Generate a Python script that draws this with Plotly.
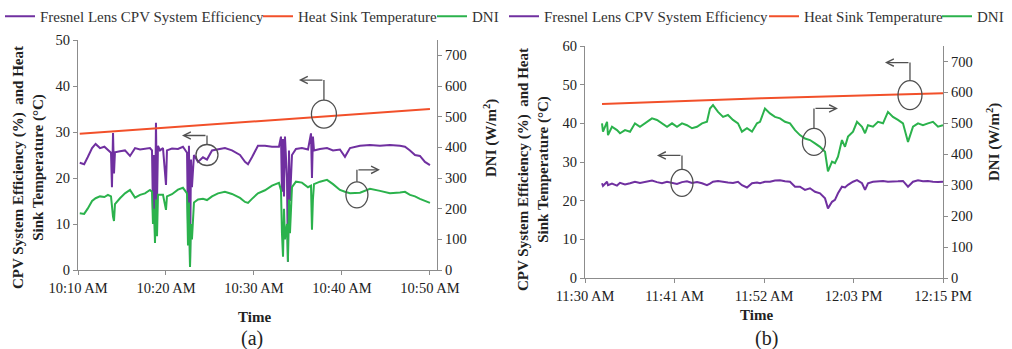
import plotly.graph_objects as go

W, H = 1012, 349
SERIF = "Liberation Serif"
PURPLE = "#7030A0"
RED = "#F2502A"
GREEN = "#2BB24C"
AX = "#8c8c8c"
TXT = "#222222"

# ---------------- Panel (a): minutes after 10:10 AM ----------------
time_a = [0.2, 0.7, 1.1, 1.6, 2.0, 2.5, 3.0, 3.4, 3.75, 3.86, 3.98, 4.09, 4.2, 4.77, 5.34,
          5.91, 6.48, 7.05, 7.61, 8.18, 8.41, 8.52, 8.64, 8.75, 8.86, 8.98, 9.09, 9.32, 9.66,
          10.0, 10.11, 10.68, 11.36, 11.93, 12.39, 12.5, 12.61, 12.73, 12.84, 12.95, 13.18,
          13.64, 14.2, 14.66, 15.23, 15.91, 16.7, 17.5, 18.41, 18.98, 19.32, 19.77, 20.45,
          21.25, 22.05, 22.84, 23.07, 23.18, 23.3, 23.41, 23.52, 23.75, 23.86, 23.98, 24.09,
          24.32, 24.77, 25.45, 26.14, 26.48, 26.59, 26.7, 26.82, 27.5, 28.3, 28.98, 29.77,
          30.34, 30.91, 32.05, 33.18, 34.32, 35.45, 36.59, 37.16, 37.73, 38.3, 38.86, 39.43, 40.0]
eff_a = [23.3, 23.0, 24.5, 26.5, 27.4, 26.5, 26.8, 26.0, 25.5, 18.0, 29.8, 21.0, 25.6, 25.8, 26.0,
         24.8, 26.5, 26.2, 26.3, 26.5, 26.0, 13.0, 25.0, 8.0, 32.0, 15.0, 27.0, 26.0, 26.5,
         18.5, 26.0, 26.4, 26.3, 26.8, 25.5, 10.0, 27.0, 0.8, 24.0, 18.0, 25.0,
         23.5, 24.5, 24.0, 26.0, 26.3, 26.5, 26.0, 25.0, 23.5, 23.0, 24.5, 27.0,
         27.0, 26.8, 26.8, 29.0, 17.0, 28.5, 16.0, 29.0, 20.0, 1.8, 26.0, 15.0,
         25.0, 26.3, 26.5, 26.2, 29.7, 20.0, 29.0, 26.0, 26.3, 26.5, 26.0, 26.2,
         24.6, 26.5, 27.0, 27.2, 27.0, 27.2, 27.0, 26.8, 26.0, 25.0, 24.8, 23.5, 22.8]
dni_a = [185, 183, 200, 225, 234, 240, 238, 245, 240, 200, 174, 160, 215, 234, 250,
         261, 236, 245, 250, 261, 255, 150, 200, 88, 230, 110, 245, 245, 245,
         196, 240, 247, 262, 268, 250, 80, 220, 10, 150, 100, 220,
         230, 232, 228, 240, 250, 255, 248, 235, 222, 219, 232, 250,
         260, 275, 284, 260, 120, 43, 200, 100, 150, 27, 230, 120,
         270, 288, 285, 270, 275, 131, 230, 280, 288, 294, 280, 261,
         255, 250, 252, 265, 258, 250, 253, 255, 245, 240, 232, 225, 219]
temp_time_a = [0.2, 19.5, 40.0]
temp_a = [29.6, 32.2, 35.0]
xtick_a_vals = [0, 10, 20, 30, 40]
xtick_a_text = ["10:10 AM", "10:20 AM", "10:30 AM", "10:40 AM", "10:50 AM"]

# ---------------- Panel (b): minutes after 11:30 AM ----------------
time_b = [2.14, 2.26, 2.77, 2.89, 3.39, 4.02, 4.4, 5.03, 5.66, 6.28, 6.91, 7.79, 8.42, 9.05,
          9.68, 10.31, 10.94, 11.56, 12.19, 12.82, 13.45, 14.08, 14.71, 15.33, 15.71, 16.09,
          16.72, 17.35, 17.97, 18.6, 19.23, 19.73, 20.36, 20.99, 21.62, 22.0, 22.62, 23.25,
          23.88, 24.51, 25.14, 25.77, 26.4, 27.02, 27.65, 28.28, 28.91, 29.54, 30.17, 30.54,
          31.05, 31.42, 31.8, 32.3, 32.68, 33.06, 33.69, 34.19, 34.82, 35.2, 35.57, 36.2,
          36.83, 37.46, 38.08, 38.71, 39.34, 39.97, 40.6, 41.23, 41.86, 42.48, 43.11, 43.74,
          44.37, 45.0]
eff_b = [24.5, 23.8, 24.9, 24.0, 24.4, 23.9, 24.6, 24.2, 24.5, 24.9, 24.6, 25.0, 25.2, 24.8,
         24.5, 24.9, 24.6, 24.3, 24.8, 25.0, 24.6, 24.8, 24.5, 24.0, 24.4, 24.9,
         25.1, 24.8, 24.7, 24.6, 24.9, 24.0, 23.4, 24.5, 24.7, 24.5, 24.9, 24.9,
         25.2, 25.3, 25.0, 24.9, 23.6, 23.6, 22.8, 23.2, 22.3, 21.9, 20.6, 18.0,
         19.7, 20.2, 21.9, 23.6, 23.4, 24.1, 24.9, 25.3, 24.5, 22.8, 24.5, 24.9,
         25.0, 25.1, 24.9, 24.9, 25.0, 25.1, 23.6, 24.9, 25.3, 25.0, 25.1, 24.9,
         24.8, 24.9]
dni_b = [500, 473, 505, 462, 489, 478, 468, 478, 473, 500, 489, 505, 516, 511,
         500, 489, 500, 489, 500, 494, 484, 489, 500, 505, 548, 559,
         537, 521, 527, 511, 500, 473, 484, 473, 500, 505, 548, 532,
         521, 516, 505, 500, 478, 462, 451, 446, 435, 424, 408, 345,
         376, 371, 392, 446, 424, 457, 473, 505, 489, 468, 494, 489,
         505, 500, 537, 521, 511, 500, 440, 489, 500, 494, 500, 505,
         489, 494]
temp_time_b = [2.14, 22.2, 45.0]
temp_b = [45.0, 46.5, 47.8]
xtick_b_vals = [0, 11.25, 22.5, 33.75, 45]
xtick_b_text = ["11:30 AM", "11:41 AM", "11:52 AM", "12:03 PM", "12:15 PM"]

series_names = ["Fresnel Lens CPV System Efficiency", "Heat Sink Temperature", "DNI"]

fig = go.Figure()


def add_panel(xa, ya, ya2, legs, t, eff, dni, tt, temp):
    fig.add_trace(go.Scatter(x=t, y=eff, mode="lines", name=series_names[0], legend=legs[0],
                             showlegend=True,
                             line=dict(color=PURPLE, width=2), xaxis=xa, yaxis=ya))
    fig.add_trace(go.Scatter(x=tt, y=temp, mode="lines", name=series_names[1], legend=legs[1],
                             showlegend=True,
                             line=dict(color=RED, width=2), xaxis=xa, yaxis=ya))
    fig.add_trace(go.Scatter(x=t, y=dni, mode="lines", name=series_names[2], legend=legs[2],
                             showlegend=True,
                             line=dict(color=GREEN, width=2), xaxis=xa, yaxis=ya2))


add_panel("x", "y", "y2", ["legend", "legend2", "legend3"],
          time_a, eff_a, dni_a, temp_time_a, temp_a)
add_panel("x2", "y3", "y4", ["legend4", "legend5", "legend6"],
          time_b, eff_b, dni_b, temp_time_b, temp_b)


def px_x(p):
    return p / W


def px_y(p):
    return 1 - p / H


tickfont = dict(family=SERIF, size=14.5, color=TXT)
common_x = dict(showline=True, linecolor=AX, linewidth=1.3, ticks="outside", ticklen=4,
                tickcolor=AX, showgrid=False, zeroline=False, tickfont=tickfont)
common_y = dict(showline=True, linecolor=AX, linewidth=1.3, ticks="outside", ticklen=4,
                tickcolor=AX, showgrid=False, zeroline=False, tickfont=tickfont)

fig.update_layout(
    width=W, height=H, autosize=False, showlegend=True,
    margin=dict(l=0, r=0, t=0, b=0, pad=0, autoexpand=False),
    paper_bgcolor="white", plot_bgcolor="white",
    xaxis=dict(domain=[px_x(78), px_x(437)], range=[0, 40.8], tickvals=xtick_a_vals,
               ticktext=xtick_a_text, anchor="y", **common_x),
    yaxis=dict(domain=[px_y(270), px_y(40)], range=[0, 50], dtick=10, anchor="x", **common_y),
    yaxis2=dict(range=[0, 750], dtick=100, overlaying="y", side="right", anchor="x", **common_y),
    xaxis2=dict(domain=[px_x(585), px_x(943)], range=[0, 45], tickvals=xtick_b_vals,
                ticktext=xtick_b_text, anchor="y3", **common_x),
    yaxis3=dict(domain=[px_y(278), px_y(46)], range=[0, 60], dtick=10, anchor="x2", **common_y),
    yaxis4=dict(range=[0, 750], dtick=100, overlaying="y3", side="right", anchor="x2", **common_y),
)

# one legend entry per legend box so each entry sits where the reference has it
legend_left_px = [0, 258, 432, 504, 764, 937]
legend_keys = ["legend", "legend2", "legend3", "legend4", "legend5", "legend6"]
for key, lx in zip(legend_keys, legend_left_px):
    fig.update_layout({key: dict(orientation="h", x=px_x(lx), y=1, xanchor="left",
                                 yanchor="top", font=dict(family=SERIF, size=15, color="#333"),
                                 bgcolor="rgba(0,0,0,0)", itemwidth=30, visible=True)})

ann = []
# axis titles and panel labels
title_font = dict(family=SERIF, size=15, color=TXT)
ann.append(dict(text="<b>CPV System Efficiency (%)  and Heat<br>Sink Temperature (°C)</b>",
                x=px_x(29), y=px_y(168), textangle=-90, font=title_font))
ann.append(dict(text="<b>CPV System Efficiency (%)  and Heat<br>Sink Temperature (°C)</b>",
                x=px_x(533), y=px_y(170), textangle=-90, font=title_font))
ann.append(dict(text="<b>DNI (W/m<sup>2</sup>)</b>", x=px_x(490), y=px_y(138), textangle=-90,
                font=title_font))
ann.append(dict(text="<b>DNI (W/m<sup>2</sup>)</b>", x=px_x(993), y=px_y(142), textangle=-90,
                font=title_font))
ann.append(dict(text="<b>Time</b>", x=px_x(254), y=px_y(317), font=title_font))
ann.append(dict(text="<b>Time</b>", x=px_x(756), y=px_y(315), font=title_font))
ann.append(dict(text="(a)", x=px_x(252), y=px_y(338), font=dict(family=SERIF, size=20, color=TXT)))
ann.append(dict(text="(b)", x=px_x(766), y=px_y(338), font=dict(family=SERIF, size=20, color=TXT)))
for a in ann:
    a.update(xref="paper", yref="paper", showarrow=False, xanchor="center", yanchor="middle")

# callouts: (xref, yref, time, value, rx, ry, vertical length, direction, arrow length)
callouts = [
    ("x", "y", 14.66, 25.0, 11, 10.5, 9, -1, 25),
    ("x", "y", 27.95, 33.9, 12.5, 14, 20, -1, 25),
    ("x", "y2", 31.7, 245, 11, 13, 12, 1, 23),
    ("x2", "y3", 12.19, 24.6, 11, 13.5, 14, -1, 25),
    ("x2", "y4", 28.78, 440, 11.5, 13.5, 20, 1, 24),
    ("x2", "y3", 40.85, 47.3, 12, 14.5, 18, -1, 25),
]
CALL = "#505050"
shapes = []
for xr, yr, cx, cy, rx, ry, vl, d, al in callouts:
    shapes.append(dict(type="circle", xref=xr, yref=yr, xsizemode="pixel", ysizemode="pixel",
                       xanchor=cx, yanchor=cy, x0=-rx, x1=rx, y0=-ry, y1=ry,
                       line=dict(color=CALL, width=1.3)))
    shapes.append(dict(type="line", xref=xr, yref=yr, xsizemode="pixel", ysizemode="pixel",
                       xanchor=cx, yanchor=cy, x0=0, x1=0, y0=ry, y1=ry + vl,
                       line=dict(color=CALL, width=1.3)))
    ann.append(dict(text="", x=cx, y=cy, xref=xr, yref=yr, xshift=d * al, yshift=ry + vl,
                    showarrow=True, ax=-d * al, ay=0, axref="pixel", ayref="pixel",
                    arrowhead=5, arrowsize=1.1, arrowwidth=1.3, arrowcolor=CALL))

fig.update_layout(annotations=ann, shapes=shapes)
fig.write_html("out.html")
